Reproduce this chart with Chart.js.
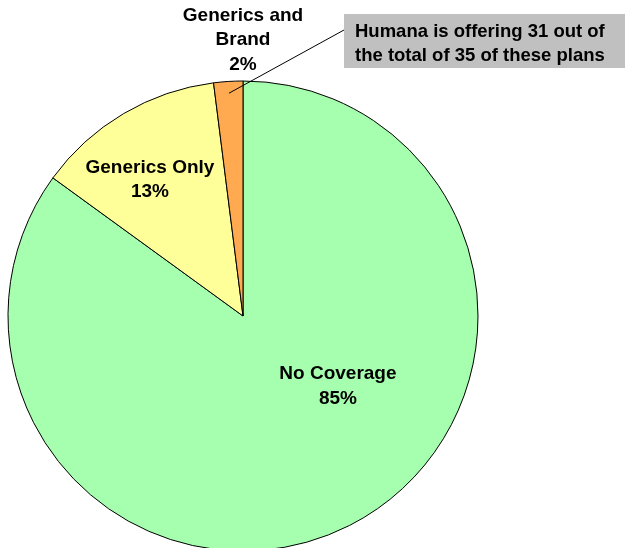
<!DOCTYPE html>
<html>
<head>
<meta charset="utf-8">
<script src="https://cdn.jsdelivr.net/npm/chart.js@4/dist/chart.umd.min.js"></script>
<style>
  html, body { margin: 0; padding: 0; background: #fff; overflow: hidden; }
  canvas { display: block; }
</style>
</head>
<body>
<canvas id="c" width="627" height="560"></canvas>
<script>
// Drug coverage in the gap
const categories = ['No Coverage', 'Generics Only', 'Generics and Brand'];
const shares = [85, 13, 2];
const sliceColors = ['#a6ffae', '#ffff99', '#ffaa50'];
const labelLines = [['No Coverage'], ['Generics Only'], ['Generics and', 'Brand']];
const calloutLines = ['Humana is offering 31 out of', 'the total of 35 of these plans'];

// label anchors, expressed relative to the pie centre in units of its radius
const labelAnchors = [
  { dx: 0.404, dy: 0.30 },
  { dx: -0.396, dy: -0.58 },
  { dx: 0.0, dy: -1.175 }
];

const FONT = 'bold 19px "Liberation Sans", Arial, sans-serif';

const labelPlugin = {
  id: 'sliceLabels',
  afterDatasetsDraw(chart) {
    const ctx = chart.ctx;
    const meta = chart.getDatasetMeta(0);
    const arcs = meta.data;
    const cx = arcs[0].x, cy = arcs[0].y, r = arcs[0].outerRadius;
    ctx.save();
    ctx.font = FONT;
    ctx.fillStyle = '#000';
    ctx.textAlign = 'center';
    ctx.textBaseline = 'middle';
    const lh = 24.5;
    arcs.forEach((arc, i) => {
      const lines = labelLines[i].concat([shares[i] + '%']);
      const ax = cx + labelAnchors[i].dx * r;
      const ay = cy + labelAnchors[i].dy * r;
      const top = ay - (lines.length - 1) * lh / 2;
      lines.forEach((t, k) => ctx.fillText(t, ax, top + k * lh));
    });

    // callout box for the smallest slice
    const small = arcs[2];
    const mid = (small.startAngle + small.endAngle) / 2;
    const px = cx + Math.cos(mid) * r * 0.95;
    const py = cy + Math.sin(mid) * r * 0.95;
    const box = { x: 344, y: 14, w: 281, h: 54 };
    ctx.fillStyle = '#c0c0c0';
    ctx.fillRect(box.x, box.y, box.w, box.h);
    ctx.strokeStyle = '#000';
    ctx.lineWidth = 1;
    ctx.beginPath();
    ctx.moveTo(px, py);
    ctx.lineTo(box.x, 30);
    ctx.stroke();
    ctx.font = 'bold 18.5px "Liberation Sans", Arial, sans-serif';
    ctx.fillStyle = '#000';
    ctx.textAlign = 'left';
    ctx.fillText(calloutLines[0], 355, 32);
    ctx.fillText(calloutLines[1], 355, 56);
    ctx.restore();
  }
};

new Chart(document.getElementById('c'), {
  type: 'pie',
  data: {
    labels: categories,
    datasets: [{
      data: shares,
      backgroundColor: sliceColors,
      borderColor: '#000',
      borderWidth: 1
    }]
  },
  options: {
    responsive: false,
    animation: false,
    radius: 235,
    layout: { padding: { top: 81, left: 8, right: 149, bottom: 9 } },
    plugins: {
      legend: { display: false },
      tooltip: { enabled: false }
    }
  },
  plugins: [labelPlugin]
});
</script>
</body>
</html>
